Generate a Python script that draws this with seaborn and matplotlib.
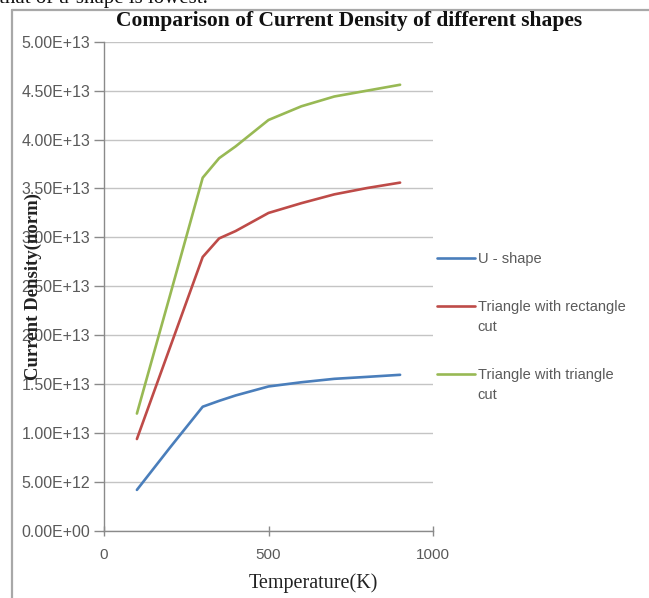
import numpy as np
import pandas as pd
import matplotlib
matplotlib.use("Agg")
import matplotlib.pyplot as plt
from matplotlib.lines import Line2D
from matplotlib.legend_handler import HandlerLine2D
from matplotlib.ticker import FuncFormatter
import seaborn as sns

# ---- data ----
temperature = [100, 200, 300, 350, 400, 500, 600, 700, 800, 900]
u_shape = [4.2e12, 8.5e12, 12.7e12, 13.3e12, 13.85e12, 14.77e12, 15.2e12, 15.55e12, 15.75e12, 15.96e12]
tri_rect_cut = [9.4e12, 18.7e12, 28.0e12, 29.9e12, 30.65e12, 32.5e12, 33.5e12, 34.4e12, 35.05e12, 35.6e12]
tri_tri_cut = [12.0e12, 24.0e12, 36.1e12, 38.1e12, 39.3e12, 42.0e12, 43.4e12, 44.4e12, 45.0e12, 45.6e12]
series_names = ["U - shape", "Triangle with rectangle cut", "Triangle with triangle cut"]
legend_labels = ["U - shape", "Triangle with rectangle\ncut", "Triangle with triangle\ncut"]
colors = ["#4a7ebb", "#be4b48", "#98b954"]
x_ticks = [0, 500, 1000]
y_ticks = [0, 5e12, 1e13, 1.5e13, 2e13, 2.5e13, 3e13, 3.5e13, 4e13, 4.5e13, 5e13]
title = "Comparison of Current Density of different shapes"
x_label = "Temperature(K)"
y_label = "Current Density(norm)"
page_text = "that of u-shape is lowest."

df = pd.concat([
    pd.DataFrame({"T": temperature, "J": vals, "shape": name})
    for name, vals in zip(series_names, [u_shape, tri_rect_cut, tri_tri_cut])
], ignore_index=True)

sns.set_style("white")
plt.rcParams["font.family"] = ["Liberation Sans", "DejaVu Sans"]
SERIF = ["Liberation Serif", "DejaVu Serif"]

W, H = 649, 598
fig = plt.figure(figsize=(W / 100, H / 100), dpi=100)
fig.patch.set_facecolor("white")

def fx(px):
    return px / W

def fy(py):
    return 1 - py / H

ax = fig.add_axes([fx(104), fy(531), fx(433) - fx(104), fy(41.7) - fy(531)])

sns.lineplot(data=df, x="T", y="J", hue="shape", hue_order=series_names,
             palette=colors, linewidth=1.9, legend=False, ax=ax, sort=False)

ax.set_xlim(0, 1000)
ax.set_ylim(0, 5e13)
ax.set_xticks(x_ticks)
ax.set_yticks(y_ticks)
ax.yaxis.set_major_formatter(FuncFormatter(lambda v, p: f"{v:.2E}"))
ax.xaxis.set_major_formatter(FuncFormatter(lambda v, p: f"{int(v)}"))

ax.grid(axis="y", color="#c4c4c4", linewidth=1.0)
ax.grid(axis="x", visible=False)
ax.set_axisbelow(True)
for s in ["top", "right"]:
    ax.spines[s].set_visible(False)
for s in ["left", "bottom"]:
    ax.spines[s].set_color("#8a8a8a")
    ax.spines[s].set_linewidth(1.0)

ax.tick_params(axis="y", direction="out", length=7, width=1, color="#8a8a8a",
               labelsize=11.5, labelcolor="#5a5a5a", pad=3, left=True)
ax.tick_params(axis="x", direction="inout", length=7, width=1, color="#8a8a8a",
               labelsize=11, labelcolor="#5a5a5a", pad=9, bottom=True)

ax.set_xlabel(x_label, family=SERIF, fontsize=14.5, color="#222222")
ax.xaxis.set_label_coords(0.635, -0.106)
ax.xaxis.label.set_va("center")
ax.set_ylabel(y_label, family=SERIF, fontsize=13.5, fontweight="bold", color="#222222")
ax.yaxis.set_label_coords(-0.216, 0.5)
ax.yaxis.label.set_va("center")

fig.text(fx(349), fy(21), title, family=SERIF, fontsize=15.5, fontweight="bold",
         ha="center", va="center", color="#111111")

fig.text(fx(-1), fy(3.5), page_text, family=SERIF, fontsize=15,
         ha="left", va="baseline", color="#111111")

# chart frame (left and top edges visible in the crop)
fig.add_artist(Line2D([fx(12), fx(12)], [0, fy(10)], transform=fig.transFigure,
                      color="#a8a8a8", linewidth=1.6))
fig.add_artist(Line2D([fx(12), 1], [fy(10), fy(10)], transform=fig.transFigure,
                      color="#a8a8a8", linewidth=1.6))


class FirstLineHandler(HandlerLine2D):
    def __init__(self, shift=0.0, **kw):
        super().__init__(**kw)
        self.shift = shift

    def create_artists(self, legend, orig_handle, xdescent, ydescent, width,
                       height, fontsize, trans):
        arts = super().create_artists(legend, orig_handle, xdescent, ydescent,
                                      width, height, fontsize, trans)
        for a in arts:
            a.set_ydata(np.asarray(a.get_ydata(), dtype=float) + self.shift)
        return arts


handles = [Line2D([], [], color=c, linewidth=1.9) for c in colors]
hmap = {handles[0]: HandlerLine2D(),
        handles[1]: FirstLineHandler(shift=8.3),
        handles[2]: FirstLineHandler(shift=8.3)}
leg = fig.legend(handles, legend_labels, handler_map=hmap,
                 loc="upper left", bbox_to_anchor=(fx(437), fy(252)),
                 bbox_transform=fig.transFigure, frameon=False,
                 fontsize=10.5, handlelength=2.6, handletextpad=0.2,
                 labelspacing=2.3, borderpad=0, borderaxespad=0)
for t in leg.get_texts():
    t.set_color("#5a5a5a")
    t.set_linespacing(1.6)

fig.savefig("out.png", dpi=100, facecolor="white")
